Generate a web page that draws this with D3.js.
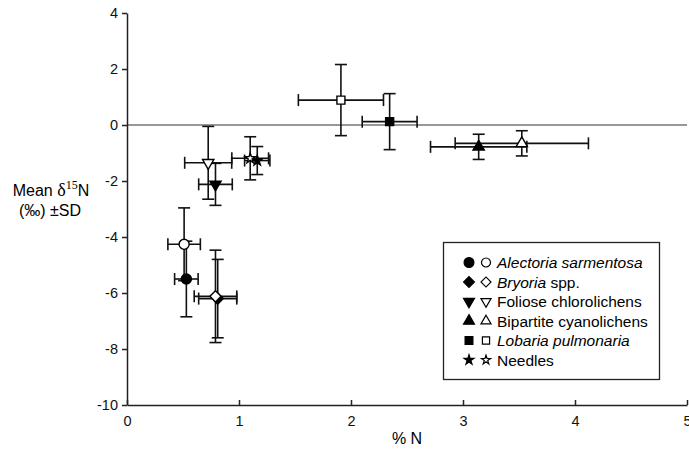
<!DOCTYPE html>
<html>
<head>
<meta charset="utf-8">
<script src="https://cdn.jsdelivr.net/npm/d3@7"></script>
<style>
  body { margin: 0; background: #fff; }
  svg { font-family: "Liberation Sans", Arial, sans-serif; }
  .axis path, .axis line { stroke: #222; stroke-width: 1.5; }
  .axis text { font-size: 14.5px; fill: #111; }
  .err { stroke: #111; stroke-width: 1.6; fill: none; }
</style>
</head>
<body>
<svg id="chart" width="689" height="463"></svg>
<script>
// groups, filled (closed) and open symbol series
const groups = ['Alectoria sarmentosa', 'Bryoria spp.', 'Foliose chlorolichens', 'Bipartite cyanolichens', 'Lobaria pulmonaria', 'Needles']
const filledN = [0.53, 0.81, 0.79, 3.14, 2.345, 1.163]
const filledNsd = [0.105, 0.17, 0.15, 0.43, 0.245, 0.113]
const filledD15 = [-5.5, -6.2, -2.12, -0.78, 0.12, -1.27]
const filledD15sd = [1.35, 1.4, 0.75, 0.45, 1.0, 0.5]
const openN = [0.51, 0.79, 0.725, 3.525, 1.91, 1.10]
const openNsd = [0.145, 0.19, 0.21, 0.595, 0.38, 0.164]
const openD15 = [-4.26, -6.12, -1.35, -0.655, 0.89, -1.19]
const openD15sd = [1.3, 1.65, 1.3, 0.45, 1.27, 0.77]
const xTicks = [0, 1, 2, 3, 4, 5]
const yTicks = [-10, -8, -6, -4, -2, 0, 2, 4]

const shapes = [
    { type: d3.symbolCircle, size: 80, rot: 0 },
    { type: d3.symbolSquare, size: 62, rot: 45 },
    { type: d3.symbolTriangle, size: 55, rot: 180 },
    { type: d3.symbolTriangle, size: 55, rot: 0 },
    { type: d3.symbolSquare, size: 64, rot: 0 },
    { type: d3.symbolStar, size: 32, rot: 0 }
]

const svg = d3.select('#chart')

const x = d3.scaleLinear().domain([0, 5]).range([127, 687])
const y = d3.scaleLinear().domain([-10, 4]).range([405, 13])

// zero line
svg.append('line')
    .attr('x1', x(0)).attr('x2', x(5))
    .attr('y1', y(0)).attr('y2', y(0))
    .attr('stroke', '#333').attr('stroke-width', 1.2)

// axes
svg.append('g').classed('axis', true)
    .attr('transform', `translate(0,${y(-10)})`)
    .call(d3.axisBottom(x).tickValues(xTicks).tickFormat(d => String(d))
        .tickSizeInner(-5).tickSizeOuter(0).tickPadding(11))

svg.append('g').classed('axis', true)
    .attr('transform', `translate(${x(0)},0)`)
    .call(d3.axisLeft(y).tickValues(yTicks).tickFormat(d => String(d))
        .tickSizeInner(5).tickSizeOuter(0).tickPadding(4))

svg.selectAll('.axis .domain').attr('stroke-width', 1.8)

// axis titles
svg.append('text')
    .attr('x', 407).attr('y', 444)
    .attr('text-anchor', 'middle')
    .style('font-size', '16px')
    .text('% N')

const yt = svg.append('text')
    .attr('x', 51).attr('y', 196)
    .attr('text-anchor', 'middle')
    .style('font-size', '16px')
yt.append('tspan').text('Mean ')
yt.append('tspan').style('font-family', '"Liberation Serif", "Times New Roman", serif').style('font-size', '18px').text('δ')
yt.append('tspan').style('font-family', '"Liberation Serif", "Times New Roman", serif').style('font-size', '12px').attr('dy', -7).text('15')
yt.append('tspan').attr('dy', 7).text('N')
svg.append('text')
    .attr('x', 50).attr('y', 216)
    .attr('text-anchor', 'middle')
    .style('font-size', '16px')
    .text('(‰) ±SD')

// error bars
function drawSeries(nx, nsd, d, dsd) {
    const data = groups.map((g, i) => ({ i, x: nx[i], xs: nsd[i], y: d[i], ys: dsd[i] }))
    const cap = 6
    const g = svg.append('g').classed('err', true)
    data.forEach(p => {
        const px = x(p.x), py = y(p.y)
        const x0 = x(p.x - p.xs), x1 = x(p.x + p.xs)
        const y0 = y(p.y - p.ys), y1 = y(p.y + p.ys)
        g.append('line').attr('x1', x0).attr('x2', x1).attr('y1', py).attr('y2', py)
        g.append('line').attr('x1', x0).attr('x2', x0).attr('y1', py - cap).attr('y2', py + cap)
        g.append('line').attr('x1', x1).attr('x2', x1).attr('y1', py - cap).attr('y2', py + cap)
        g.append('line').attr('x1', px).attr('x2', px).attr('y1', y0).attr('y2', y1)
        g.append('line').attr('x1', px - cap).attr('x2', px + cap).attr('y1', y0).attr('y2', y0)
        g.append('line').attr('x1', px - cap).attr('x2', px + cap).attr('y1', y1).attr('y2', y1)
    })
    return data
}

function drawMarks(data, filled) {
    svg.append('g')
        .selectAll('path')
        .data(data)
        .enter()
            .append('path')
            .attr('d', p => d3.symbol().type(shapes[p.i].type).size(shapes[p.i].size)())
            .attr('transform', p => `translate(${x(p.x)},${y(p.y)}) rotate(${shapes[p.i].rot})`)
            .attr('fill', filled ? '#000' : '#fff')
            .attr('stroke', '#000')
            .attr('stroke-width', 1.4)
}

const fData = drawSeries(filledN, filledNsd, filledD15, filledD15sd)
const oData = drawSeries(openN, openNsd, openD15, openD15sd)
drawMarks(fData, true)
drawMarks(oData, false)

// legend
const leg = svg.append('g')
leg.append('rect')
    .attr('x', 443.5).attr('y', 242.5)
    .attr('width', 216).attr('height', 137)
    .attr('fill', '#fff').attr('stroke', '#222').attr('stroke-width', 1.3)

const rows = leg.selectAll('g.row')
    .data(groups)
    .enter()
        .append('g').classed('row', true)
        .attr('transform', (d, i) => `translate(0,${262.5 + i * 19.5})`)

rows.append('path')
    .attr('d', (d, i) => d3.symbol().type(shapes[i].type).size(shapes[i].size * 0.95)())
    .attr('transform', (d, i) => `translate(469,0) rotate(${shapes[i].rot})`)
    .attr('fill', '#000').attr('stroke', '#000').attr('stroke-width', 1.2)
rows.append('path')
    .attr('d', (d, i) => d3.symbol().type(shapes[i].type).size(shapes[i].size * 0.8)())
    .attr('transform', (d, i) => `translate(486,0) rotate(${shapes[i].rot})`)
    .attr('fill', '#fff').attr('stroke', '#000').attr('stroke-width', 1.2)

const italicPart = ['Alectoria sarmentosa', 'Bryoria', '', '', 'Lobaria pulmonaria', '']
const plainPart = ['', ' spp.', 'Foliose chlorolichens', 'Bipartite cyanolichens', '', 'Needles']
const lt = rows.append('text')
    .attr('x', 497).attr('y', 5.5)
    .style('font-size', '15.5px')
lt.append('tspan').style('font-style', 'italic').text((d, i) => italicPart[i])
lt.append('tspan').text((d, i) => plainPart[i])
</script>
</body>
</html>
